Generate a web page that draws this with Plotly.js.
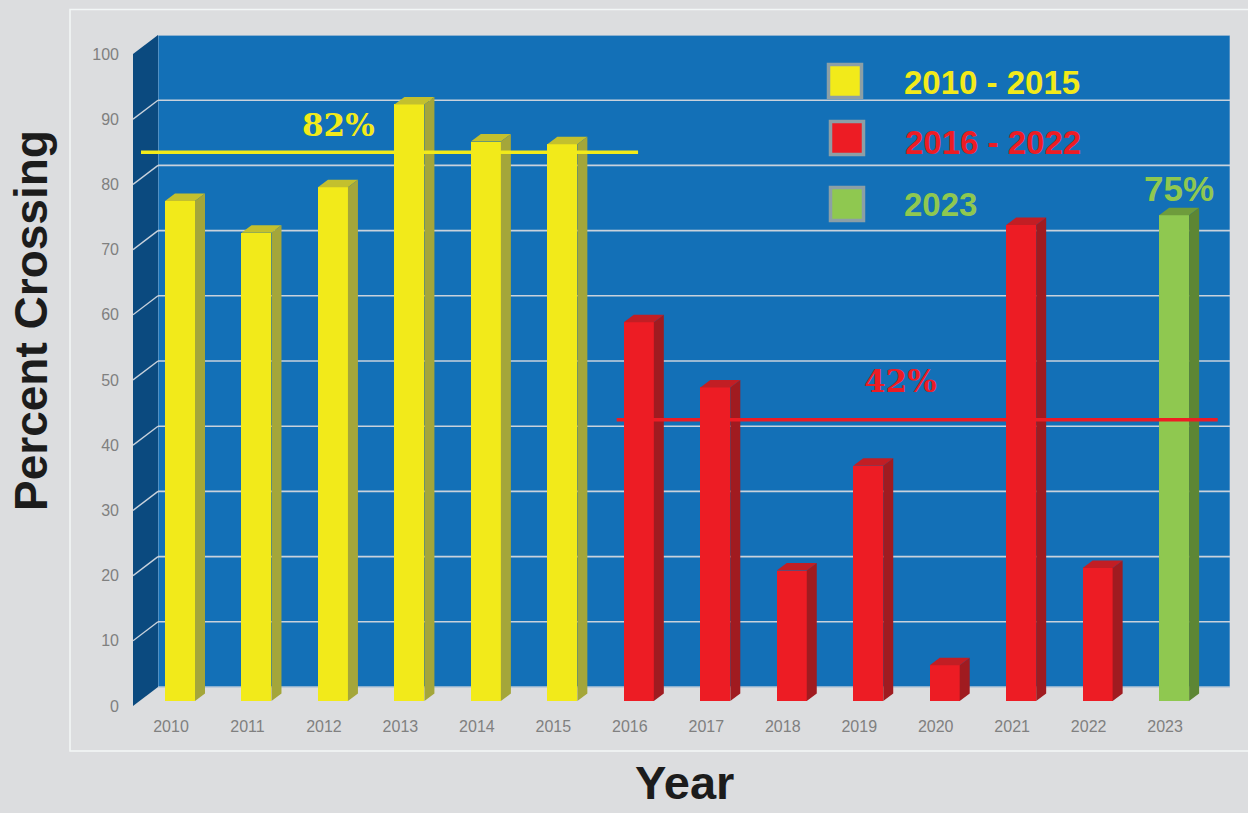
<!DOCTYPE html>
<html>
<head>
<meta charset="utf-8">
<script src="https://cdn.plot.ly/plotly-3.0.1.min.js"></script>
<style>
  html, body { margin: 0; padding: 0; background: #dcdddf; }
  #chart { width: 1248px; height: 813px; }
</style>
</head>
<body>
<div id="chart"></div>
<script>
// ---------------- DATA ----------------
const years = [2010, 2011, 2012, 2013, 2014, 2015, 2016, 2017, 2018, 2019, 2020, 2021, 2022, 2023];
const percentCrossing = [76.7, 71.8, 78.8, 91.5, 85.8, 85.4, 58.1, 48.1, 20.0, 36.1, 5.5, 73.0, 20.4, 74.5];
const periodOfYear = ['A', 'A', 'A', 'A', 'A', 'A', 'B', 'B', 'B', 'B', 'B', 'B', 'B', 'C'];
const periodKeys = ['A', 'B', 'C'];
const periodNames = ['2010 - 2015', '2016 - 2022', '2023'];
const averageLabels = ['82%', '42%', '75%'];
const averageLevels = [82, 41];          // drawn on the back wall
const averageFromYear = [2009.49, 2015.71];
const averageToYear = [2015.99, 2023.57];
const yTickValues = [0, 10, 20, 30, 40, 50, 60, 70, 80, 90, 100];

// ---------------- STYLE ----------------
const frontColor = { A: '#f2ea1a', B: '#ed1c24', C: '#8fc850' };
const topColor   = { A: '#c3c02e', B: '#c21e24', C: '#6e9c3c' };
const sideColor  = { A: '#a4a63a', B: '#a01b20', C: '#5d8634' };
const labelColor = { A: '#f2ea1a', B: '#ed1c24', C: '#8fc850' };

// plot-area geometry (pixels)
const L = 133, R = 1230, T = 35, B = 706;
const W = R - L, H = B - T;
const pxPerX = 76.47, pxPerY = 6.52;
const xMin = years[0] - (180 - L) / pxPerX;
const xMax = years[0] + (R - 180) / pxPerX;
const DX = 25 / pxPerX;     // wall depth
const DY = 19 / pxPerY;
const yMax = 100 + DY;
const BW = 30 / pxPerX;     // bar front width
const bdx = 10 / pxPerX;    // bar depth
const bdy = 7.5 / pxPerY;
const lift = 5 / pxPerY;    // bars stand a little behind the front edge

const pX = p => (p - L) / W;
const pY = p => (B - p) / H;

// ---------------- TRACES ----------------
const traces = [];

// front faces of the bars (real bar trace)
traces.push({
  type: 'bar',
  x: years,
  y: percentCrossing,
  base: years.map(() => lift),
  width: years.map(() => BW),
  marker: { color: periodOfYear.map(k => frontColor[k]), line: { width: 0 } },
  hoverinfo: 'skip',
  showlegend: false
});

// top and side faces computed from the same values
years.forEach((yr, i) => {
  const v = percentCrossing[i] + lift;
  const k = periodOfYear[i];
  const x0 = yr - BW / 2, x1 = yr + BW / 2;
  traces.push({
    type: 'scatter', mode: 'lines', fill: 'toself',
    x: [x0, x0 + bdx, x1 + bdx, x1, x0],
    y: [v, v + bdy, v + bdy, v, v],
    fillcolor: topColor[k], line: { width: 0, color: topColor[k] },
    hoverinfo: 'skip', showlegend: false
  });
  traces.push({
    type: 'scatter', mode: 'lines', fill: 'toself',
    x: [x1, x1 + bdx, x1 + bdx, x1, x1],
    y: [lift, lift + bdy, v + bdy, v, lift],
    fillcolor: sideColor[k], line: { width: 0, color: sideColor[k] },
    hoverinfo: 'skip', showlegend: false
  });
});

// average lines (on back wall)
averageLevels.forEach((lv, j) => {
  const k = periodKeys[j];
  traces.push({
    type: 'scatter', mode: 'lines',
    x: [averageFromYear[j], averageToYear[j]],
    y: [lv + DY, lv + DY],
    line: { color: labelColor[k], width: 3.5 },
    hoverinfo: 'skip', showlegend: false
  });
});

// ---------------- SHAPES (walls, grid, panel, legend) ----------------
const shapes = [];
// outer panel
shapes.push({
  type: 'rect', xref: 'paper', yref: 'paper', layer: 'below',
  x0: pX(70), x1: pX(1260), y0: pY(751), y1: pY(9.5),
  line: { color: '#f3f7f7', width: 1.5 }, fillcolor: '#dcdddf'
});
// back wall
shapes.push({
  type: 'rect', xref: 'x', yref: 'y', layer: 'below',
  x0: xMin + DX, x1: xMax, y0: DY, y1: yMax,
  line: { color: '#8fb0cf', width: 1 }, fillcolor: '#1370b7'
});
// faint artefact box at the top-right of the wall
shapes.push({
  type: 'rect', xref: 'paper', yref: 'paper', layer: 'below',
  x0: pX(1098), x1: pX(1229), y0: pY(46), y1: pY(35.5),
  line: { color: '#3a86c4', width: 1 }, fillcolor: 'rgba(0,0,0,0)'
});
// side wall
shapes.push({
  type: 'path', xref: 'x', yref: 'y', layer: 'below',
  path: `M ${xMin} 0 L ${xMin} 100 L ${xMin + DX} ${yMax} L ${xMin + DX} ${DY} Z`,
  line: { width: 0 }, fillcolor: '#0b4a7f'
});
// gridlines
yTickValues.forEach(v => {
  shapes.push({
    type: 'line', xref: 'x', yref: 'y', layer: 'below',
    x0: xMin + DX, x1: xMax, y0: v + DY, y1: v + DY,
    line: { color: '#c9d2dc', width: (v === 0 || v === 100) ? 1 : 1.6 }
  });
  if (v > 0 && v < 100) {
    shapes.push({
      type: 'line', xref: 'x', yref: 'y', layer: 'below',
      x0: xMin, x1: xMin + DX, y0: v, y1: v + DY,
      line: { color: '#c9d2dc', width: 1.4 }
    });
  }
});
// legend squares
const legendCentres = [[845, 81], [847, 138], [847, 204]];
periodKeys.forEach((k, j) => {
  const [cx, cy] = legendCentres[j];
  shapes.push({
    type: 'rect', xref: 'paper', yref: 'paper', layer: 'above',
    x0: pX(cx - 16.5), x1: pX(cx + 16.5), y0: pY(cy + 16.5), y1: pY(cy - 16.5),
    line: { color: '#8c9fa6', width: 3.5 }, fillcolor: frontColor[k]
  });
});

// ---------------- ANNOTATIONS ----------------
const annotations = [];
const legendTextPos = [[902, 82], [903, 142], [902, 204]];
periodKeys.forEach((k, j) => {
  annotations.push({
    xref: 'paper', yref: 'paper', x: pX(legendTextPos[j][0]), y: pY(legendTextPos[j][1]),
    xanchor: 'left', yanchor: 'middle', showarrow: false,
    text: periodNames[j],
    font: { family: 'Liberation Sans, Arial, sans-serif', size: 33, color: labelColor[k], weight: 'bold' }
  });
});
// percentage labels
const pctPos = [[2012.07, 89.1], [2019.42, 49.8], [2023.06, 79.4]];
averageLabels.forEach((t, j) => {
  const k = periodKeys[j];
  annotations.push({
    xref: 'x', yref: 'y', x: pctPos[j][0], y: pctPos[j][1],
    xanchor: 'center', yanchor: 'middle', showarrow: false, text: t,
    font: j === 2
      ? { family: 'Liberation Sans, Arial, sans-serif', size: 35, color: labelColor[k], weight: 'bold' }
      : { family: 'DejaVu Serif, serif', size: 31, color: labelColor[k], weight: 'bold' }
  });
});
// axis titles
annotations.push({
  xref: 'paper', yref: 'paper', x: pX(31), y: pY(321), xanchor: 'center', yanchor: 'middle',
  showarrow: false, textangle: -90, text: 'Percent Crossing',
  font: { family: 'Liberation Sans, Arial, sans-serif', size: 46, color: '#1c1c1c', weight: 'bold' }
});
annotations.push({
  xref: 'paper', yref: 'paper', x: pX(684), y: pY(783), xanchor: 'center', yanchor: 'middle',
  showarrow: false, text: 'Year', borderpad: 0,
  font: { family: 'Liberation Sans, Arial, sans-serif', size: 47, color: '#1c1c1c', weight: 'bold' }
});

// ---------------- LAYOUT ----------------
const layout = {
  width: 1248, height: 813,
  margin: { l: L, r: 1248 - R, t: T, b: 813 - B, pad: 0 },
  paper_bgcolor: '#dcdddf',
  plot_bgcolor: 'rgba(0,0,0,0)',
  showlegend: false,
  bargap: 0,
  xaxis: {
    range: [xMin, xMax], showgrid: false, zeroline: false, showline: false,
    tickvals: years, ticktext: years.map(String), ticks: '', ticklen: 0,
    ticklabelstandoff: 9, ticklabelshift: -9,
    tickfont: { family: 'Liberation Sans, Arial, sans-serif', size: 16, color: '#808080' },
    fixedrange: true
  },
  yaxis: {
    range: [0, yMax], showgrid: false, zeroline: false, showline: false,
    tickvals: yTickValues, ticks: '', ticklen: 0, ticklabelstandoff: 13,
    tickfont: { family: 'Liberation Sans, Arial, sans-serif', size: 16, color: '#808080' },
    fixedrange: true
  },
  shapes: shapes,
  annotations: annotations
};

Plotly.newPlot('chart', traces, layout, { displayModeBar: false, staticPlot: true });
</script>
</body>
</html>
